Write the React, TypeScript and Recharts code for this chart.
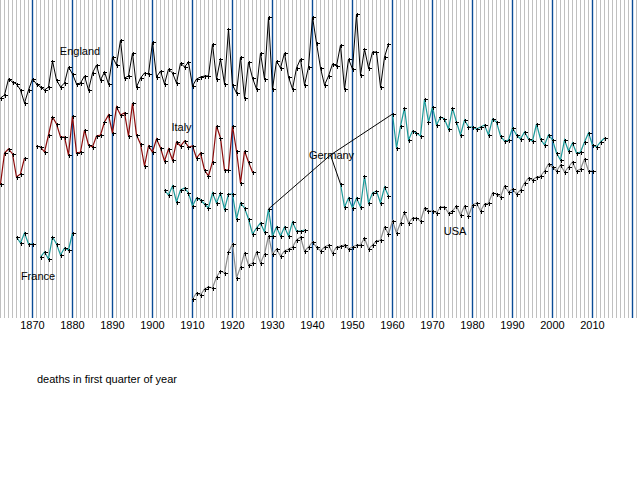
import { LineChart, Line, XAxis, YAxis, ReferenceLine, ReferenceArea } from "recharts";

// values are relative levels (no y scale is shown)
const englandStart = 1862;
const england = [
  220, 223, 239, 236, 234, 228, 215, 228, 239, 234, 231, 228, 231, 257, 238, 231, 235, 251, 244, 234,
  235, 242, 228, 245, 253, 238, 246, 234, 261, 253, 278, 240, 242, 265, 231, 240, 245, 244, 276, 241,
  247, 234, 249, 245, 235, 255, 251, 256, 232, 239, 241, 242, 242, 274, 239, 259, 234, 289, 233, 225,
  261, 220, 256, 240, 229, 265, 239, 301, 229, 257, 250, 265, 241, 229, 250, 259, 233, 251, 301, 275,
  250, 233, 242, 254, 252, 273, 229, 259, 249, 304, 243, 269, 250, 266, 266, 231, 261, 274
];

const italyStart = 1862;
const italy = [
  134, 165, 169, 164, 141, 144, 160, null, null, 172, 171, 166, 183, 201, 194, 181, 181, 163, 202, 165,
  166, 188, 173, 171, 182, 183, 196, 203, 185, 211, 203, 205, 182, 215, 183, 174, 152, 172, 166, 179,
  170, 157, 169, 158, 176, 172, 177, 171, 172, 160, 165, 148, 142, 156, 192, 180, 148, 148, 192, 167,
  135, 167, 156, 146
];

const germanyPreWarStart = 1903;
const germanyPreWar = [
  128, 123, 132, 116, 128, 130, 125, 112, 120, 118, 114, 110, 125, 115, 125, 109, 124, 124, 99, 115,
  110, 99, 84, 90, 95, 86, 109, 82, 91, 82, 91, 82, 96, 87, 87, 88
];

const germanyPostWarStart = 1947;
const germanyPostWar = [134, 111, 120, 110, 120, 111, 142, 115, 125, 127, 115, 131, 122];

const germanyStart = 1960;
const germany = [
  204, 170, 192, 210, 178, 187, 185, 182, 219, 196, 211, 193, 201, 199, 189, 210, 196, 183, 198, 191,
  191, 189, 191, 193, 183, 199, 196, 182, 177, 178, 190, 183, 179, 186, 179, 177, 194, 179, 173, 183,
  178, 165, 158, 178, 167, 175, 165, 166, 176, 185, 173, 171, 176, 180
];

const usaStart = 1910;
const usa = [
  19, 25, 23, 29, 31, 30, 41, 47, 45, 66, 74, 40, 51, 65, 53, 55, 66, 55, 64, 82,
  64, 69, 62, 67, 69, 71, 78, 81, 67, 71, 76, 71, 67, 71, 73, 65, 71, 72, 73, 69,
  71, 73, 73, 80, 69, 73, 77, 78, 91, 84, 97, 85, 95, 106, 95, 100, 100, 97, 110, 107,
  107, 105, 111, 111, 105, 107, 112, 103, 112, 102, 113, 115, 107, 114, 115, 125, 124, 121, 132, 126,
  129, 124, 128, 135, 140, 138, 141, 142, 147, 154, 151, 147, 153, 146, 151, 156, 147, 149, 159, 147,
  147
];

const franceStart = 1866;
const france = [81, 75, 85, 74, 74, null, 61, 66, 59, 81, 74, 63, 70, 68, 85];

const firstYear = 1862;
const lastYear = 2021;
const tickYears = [1870, 1880, 1890, 1900, 1910, 1920, 1930, 1940, 1950, 1960, 1970, 1980, 1990, 2000, 2010];

const at = (values: (number | null)[], start: number, year: number) => {
  const i = year - start;
  return i >= 0 && i < values.length ? values[i] : null;
};

const gridYears: number[] = [];
for (let y = firstYear; y <= lastYear; y++) gridYears.push(y);

const rows = gridYears
  .filter((year) => year <= 2013)
  .map((year) => ({
    year,
    england: at(england, englandStart, year),
    italy: at(italy, italyStart, year),
    germanyA: at(germanyPreWar, germanyPreWarStart, year),
    germanyB: at(germanyPostWar, germanyPostWarStart, year),
    germanyC: at(germany, germanyStart, year),
    usa: at(usa, usaStart, year),
    france: at(france, franceStart, year)
  }));

const font = "'Liberation Sans', Arial, sans-serif";

// where the "Germany" label sits and the points its leaders run to
const germanyLabel = { x: 1944.5, y: 163 };
const germanyLeaders = [
  { year: 1929, value: at(germanyPreWar, germanyPreWarStart, 1929) },
  { year: 1947, value: at(germanyPostWar, germanyPostWarStart, 1947) },
  { year: 1960, value: at(germany, germanyStart, 1960) }
];

function PlusDot(props: any) {
  const { cx, cy, key } = props;
  if (cx == null || cy == null) return <g key={key} />;
  const x = Math.round(cx) + 0.5;
  const y = Math.round(cy) + 0.5;
  return (
    <path
      key={key}
      d={`M${x - 2},${y}h4M${x},${y - 2}v4`}
      stroke="#000"
      strokeWidth={1}
      fill="none"
      shapeRendering="crispEdges"
    />
  );
}

const labelStyle = { fill: "#000", fontSize: 11, fontFamily: font };

export default function App() {
  return (
    <div style={{ position: "absolute", left: 0, top: 0, width: 640, height: 480, background: "#fff" }}>
      <LineChart width={640} height={480} data={rows} margin={{ top: 0, right: 3.5, left: 0.5, bottom: 132 }}>
        <XAxis
          dataKey="year"
          type="number"
          domain={[firstYear, lastYear]}
          ticks={tickYears}
          axisLine={false}
          tickLine={false}
          tickSize={3}
          tickMargin={0}
          height={30}
          tick={{ fill: "#000", fontSize: 11, fontFamily: font }}
        />
        <YAxis hide type="number" domain={[0, 318]} />
        {gridYears.map((y) => (
          <ReferenceLine
            key={`g${y}`}
            x={y}
            stroke={y % 10 === 0 ? "#0b4c96" : "#c0c0c0"}
            strokeWidth={y % 10 === 0 ? 1.4 : 1}
          />
        ))}
        <ReferenceArea x1={1862} x2={1903} y1={12} y2={21} fill="#fff" fillOpacity={1} stroke="none" />
        <ReferenceArea x1={1937} x2={1945.75} y1={116} y2={125} fill="#fff" fillOpacity={1} stroke="none" />
        <ReferenceArea x1={1868.75} x2={1870.25} y1={156} y2={165} fill="#fff" fillOpacity={1} stroke="none" />
        <ReferenceArea x1={1875.75} x2={1878.25} y1={181} y2={190} fill="#fff" fillOpacity={1} stroke="none" />
        <ReferenceArea x1={1962.75} x2={1976.5} y1={251} y2={263} fill="#fff" fillOpacity={1} stroke="none" />
        {germanyLeaders.map((p) => (
          <ReferenceLine
            key={`l${p.year}`}
            segment={[
              { x: germanyLabel.x, y: germanyLabel.y },
              { x: p.year, y: p.value as number }
            ]}
            stroke="#000"
            strokeWidth={1}
          />
        ))}
        <Line dataKey="england" stroke="#000" strokeWidth={1} dot={PlusDot} isAnimationActive={false} />
        <Line dataKey="italy" stroke="#8b0a0a" strokeWidth={1.2} dot={PlusDot} isAnimationActive={false} />
        <Line dataKey="germanyA" stroke="#1a9a9a" strokeWidth={1.2} dot={PlusDot} isAnimationActive={false} />
        <Line dataKey="germanyB" stroke="#1a9a9a" strokeWidth={1.2} dot={PlusDot} isAnimationActive={false} />
        <Line dataKey="germanyC" stroke="#1a9a9a" strokeWidth={1.2} dot={PlusDot} isAnimationActive={false} />
        <Line dataKey="usa" stroke="#8c8c8c" strokeWidth={1.2} dot={PlusDot} isAnimationActive={false} />
        <Line dataKey="france" stroke="#1a9a9a" strokeWidth={1.2} dot={PlusDot} isAnimationActive={false} />
        <ReferenceArea x1={1876.75} x2={1887} y1={260} y2={273} fill="#fff" fillOpacity={1} stroke="none"
          label={{ value: "England", position: "center", ...labelStyle }} />
        <ReferenceArea x1={1902.75} x2={1911.75} y1={184} y2={198} fill="#fff" fillOpacity={1} stroke="none"
          label={{ value: "Italy", position: "center", ...labelStyle }} />
        <ReferenceArea x1={1937.5} x2={1952} y1={155} y2={171} fill="#fff" fillOpacity={1} stroke="none"
          label={{ value: "Germany", position: "center", ...labelStyle }} />
        <ReferenceArea x1={1972} x2={1979.25} y1={80} y2={93} fill="#fff" fillOpacity={1} stroke="none"
          label={{ value: "USA", position: "center", ...labelStyle }} />
        <ReferenceArea x1={1866.5} x2={1876.25} y1={36} y2={48} fill="#fff" fillOpacity={1} stroke="none"
          label={{ value: "France", position: "center", ...labelStyle }} />
      </LineChart>
      <div style={{ position: "absolute", left: 37, top: 373, fontFamily: font, fontSize: 11, lineHeight: "13px", color: "#000" }}>
        deaths in first quarter of year
      </div>
    </div>
  );
}
